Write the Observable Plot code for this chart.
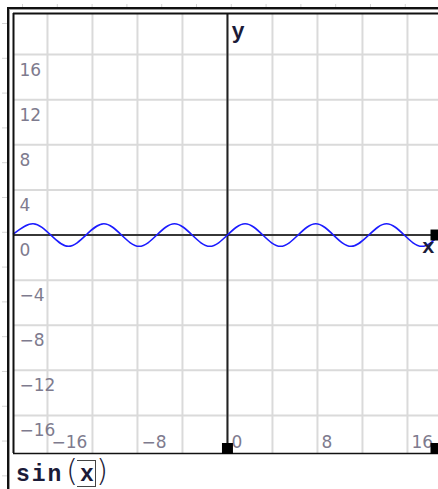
<!DOCTYPE html>
<html><head><meta charset="utf-8">
<script src="https://cdn.jsdelivr.net/npm/d3@7"></script>
<script src="https://cdn.jsdelivr.net/npm/@observablehq/plot@0.6"></script>
<style>
html{background:#fff;margin:0;padding:0;}
body{margin:0;padding:0;width:438px;height:489px;overflow:hidden;position:relative;background-color:#fff;
 background-image:linear-gradient(to right,#d4d4d4 1px,transparent 1px),linear-gradient(to bottom,#d4d4d4 1px,transparent 1px);
 background-size:34.8px 4px,5px 34.8px;background-position:22px 4px,2px 23px;background-repeat:repeat-x,repeat-y;}
#outer{position:absolute;left:7px;top:7px;width:470px;height:520px;border-left:2px solid #111;border-top:2px solid #111;box-shadow:inset 1px 1px 0 #9a9a9a;}
#chart{position:absolute;left:0;top:0;}
#chart svg{background:transparent;}
.cap{position:absolute;white-space:nowrap;color:#1b1b38;}
</style>
</head><body>
<div id="outer"></div>
<div id="chart"></div>
<div class="cap" style="left:16px;top:464px;font:bold 23px/23px 'Liberation Mono';letter-spacing:2px;">sin</div>
<div class="cap" style="left:66px;top:455px;font:200 31px/31px 'DejaVu Sans';">(</div>
<div class="cap" style="left:77px;top:460px;width:18px;height:25px;border:1px solid #444;border-left:none;"></div>
<div class="cap" style="left:80px;top:464px;font:bold 23px/23px 'Liberation Mono';">x</div>
<div class="cap" style="left:96px;top:455px;font:200 31px/31px 'DejaVu Sans';">)</div>
<script>
// axis extents
const xDomain = [-19.02, 18.76];
const yDomain = [-19.37, 19.64];
// grid lines
const xGrid = [-16, -12, -8, -4, 0, 4, 8, 12, 16];
const yGrid = [-16, -12, -8, -4, 0, 4, 8, 12, 16];
// tick labels
const xTickValues = [-16, -8, 0, 8, 16];
const xTickLabels = ["\u221216", "\u22128", "0", "8", "16"];
const yTickValues = [16, 12, 8, 4, 0, -4, -8, -12, -16];
const yTickLabels = ["16", "12", "8", "4", "0", "\u22124", "\u22128", "\u221212", "\u221216"];
// curve sin(x): points (crossings, peaks, troughs)
const curveX = [-19.02, -17.28, -15.71, -14.14, -12.57, -10.99, -9.42, -7.85, -6.28, -4.71, -3.14, -1.57, 0, 1.57, 3.14, 4.71, 6.28, 7.85, 9.42, 10.99, 12.57, 14.14, 15.71, 17.28, 18.85];
const curveY = [0.1, 1, 0, -1, 0, 1, 0, -1, 0, 1, 0, -1, 0, 1, 0, -1, 0, 1, 0, -1, 0, 1, 0, -1, 0];
const axisNames = ["x", "y"];

const pts = curveX.map((x, i) => ({x, y: curveY[i]}));
const labelColor = "#7e7b8e";
const nameColor = "#1b1b38";

const chart = Plot.plot({
  width: 438, height: 455,
  marginLeft: 13, marginTop: 13, marginRight: 0, marginBottom: 2,
  x: {domain: xDomain, axis: null},
  y: {domain: yDomain, axis: null},
  style: {background: "transparent"},
  marks: [
    Plot.ruleX(xGrid, {x: d => d, stroke: "#dadada", strokeWidth: 2}),
    Plot.ruleY(yGrid, {y: d => d, stroke: "#dadada", strokeWidth: 2}),
    Plot.ruleY([0], {y: d => d, stroke: "#000", strokeWidth: 1.6}),
    Plot.ruleX([0], {x: d => d, stroke: "#222", strokeWidth: 2}),
    Plot.line(pts, {x: "x", y: "y", curve: "natural", stroke: "#1c1cff", strokeWidth: 1.6}),
    Plot.ruleX([xDomain[0]], {x: d => d, stroke: "#111", strokeWidth: 2}),
    Plot.ruleY([yDomain[1]], {y: d => d, stroke: "#111", strokeWidth: 2}),
    Plot.ruleY([yDomain[0]], {y: d => d, stroke: "#111", strokeWidth: 1.6}),
    Plot.text(yTickValues, {y: d => d, text: (d, i) => yTickLabels[i], frameAnchor: "left", dx: 6, dy: 21,
      textAnchor: "start", lineAnchor: "bottom", fill: labelColor, fontSize: 17, fontFamily: "DejaVu Sans"}),
    Plot.text(xTickValues, {x: d => d, text: (d, i) => xTickLabels[i], frameAnchor: "bottom", dx: 4, dy: -6,
      textAnchor: "start", lineAnchor: "bottom", fill: labelColor, fontSize: 17, fontFamily: "DejaVu Sans"}),
    Plot.text([axisNames[1]], {x: () => 0, text: d => d, frameAnchor: "top", dx: 4, dy: 24,
      textAnchor: "start", lineAnchor: "bottom", fill: nameColor, fontSize: 22, fontWeight: "bold", fontFamily: "Liberation Mono"}),
    Plot.text([axisNames[0]], {y: () => 0, text: d => d, frameAnchor: "right", dx: -4, dy: 18,
      textAnchor: "end", lineAnchor: "bottom", fill: nameColor, fontSize: 21, fontWeight: "bold", fontFamily: "Liberation Mono"}),
    // selection handles
    Plot.dot([0], {x: d => d, frameAnchor: "bottom", dy: -5, symbol: "square", r: 6.2, fill: "#000", stroke: null}),
    Plot.dot([0], {y: d => d, frameAnchor: "right", dx: -2.5, symbol: "square", r: 6.2, fill: "#000", stroke: null}),
    Plot.dot([0], {frameAnchor: "bottom-right", dx: -2.5, dy: -5, symbol: "square", r: 6.2, fill: "#000", stroke: null})
  ]
});
document.getElementById("chart").appendChild(chart);
</script>
</body></html>
